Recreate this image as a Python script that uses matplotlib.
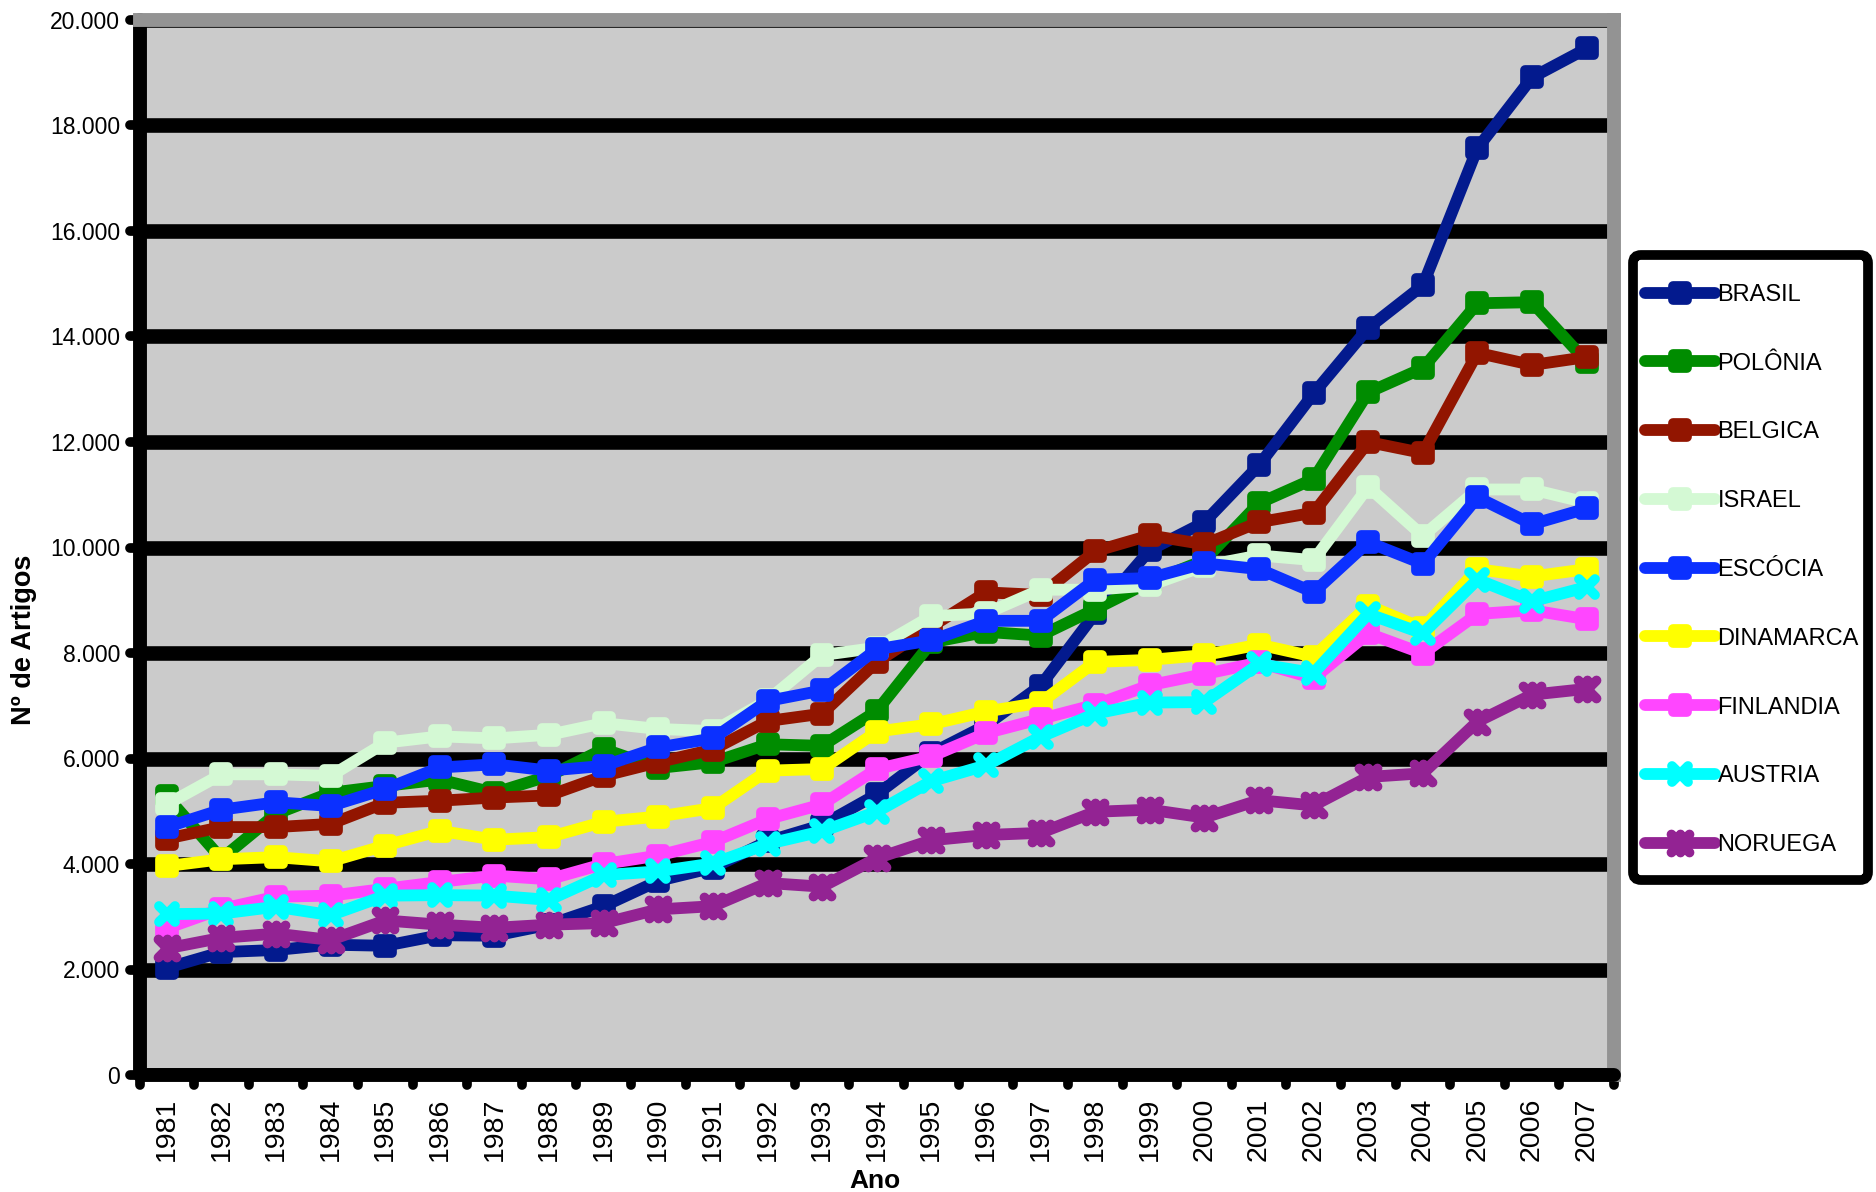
import numpy as np
import matplotlib
matplotlib.use('Agg')
import matplotlib.pyplot as plt
from matplotlib.markers import MarkerStyle, TICKLEFT, TICKDOWN
from matplotlib.path import Path
from matplotlib.patches import FancyBboxPatch
from matplotlib.ticker import FixedLocator, FuncFormatter
from matplotlib.transforms import IdentityTransform

plt.rcParams['font.family'] = ['Liberation Sans', 'DejaVu Sans']

years = list(range(1981, 2008))

brasil = [2030, 2330, 2370, 2470, 2450, 2650, 2640, 2850, 3200, 3680, 3930, 4430, 4740, 5320,
          6100, 6630, 7380, 8750, 9950, 10480, 11560, 12920, 14160, 14970, 17570, 18910, 19460]
polonia = [5280, 4100, 4950, 5350, 5480, 5600, 5350, 5670, 6180, 5820, 5930, 6270, 6240, 6900,
           8200, 8400, 8330, 8830, 9350, 9760, 10840, 11300, 12940, 13400, 14630, 14650, 13520]
belgica = [4480, 4700, 4700, 4760, 5160, 5200, 5260, 5300, 5670, 5930, 6170, 6710, 6850, 7830,
           8500, 9150, 9100, 9930, 10230, 10060, 10480, 10660, 12000, 11790, 13690, 13460, 13610]
israel = [5130, 5700, 5700, 5670, 6300, 6420, 6380, 6450, 6670, 6560, 6520, 7100, 7960, 8100,
          8700, 8750, 9200, 9200, 9280, 9650, 9850, 9760, 11150, 10220, 11100, 11100, 10850]
escocia = [4700, 5030, 5170, 5100, 5420, 5830, 5890, 5770, 5860, 6210, 6380, 7090, 7290, 8070,
           8240, 8610, 8610, 9390, 9420, 9700, 9590, 9150, 10100, 9690, 10950, 10440, 10740]
dinamarca = [3960, 4090, 4130, 4050, 4350, 4630, 4460, 4510, 4800, 4900, 5060, 5770, 5800, 6510,
             6650, 6890, 7060, 7830, 7870, 7960, 8160, 7930, 8900, 8470, 9590, 9450, 9590]
finlandia = [2780, 3150, 3380, 3400, 3530, 3660, 3780, 3710, 4000, 4160, 4420, 4850, 5130, 5800,
             6040, 6480, 6750, 7020, 7390, 7600, 7820, 7520, 8370, 7990, 8740, 8810, 8640]
austria = [3050, 3060, 3190, 3030, 3400, 3410, 3400, 3320, 3790, 3860, 4010, 4380, 4620, 4990,
           5570, 5870, 6410, 6850, 7060, 7070, 7790, 7620, 8740, 8370, 9390, 8980, 9250]
noruega = [2400, 2600, 2680, 2560, 2930, 2850, 2790, 2850, 2880, 3140, 3200, 3640, 3570, 4110,
           4450, 4550, 4590, 4990, 5030, 4880, 5210, 5110, 5650, 5720, 6700, 7210, 7320]

names = ['BRASIL', 'POLÔNIA', 'BELGICA', 'ISRAEL', 'ESCÓCIA', 'DINAMARCA', 'FINLANDIA', 'AUSTRIA', 'NORUEGA']
series = [brasil, polonia, belgica, israel, escocia, dinamarca, finlandia, austria, noruega]
colors = ['#031A8E', '#008C00', '#921500', '#D4F9D4', '#0B30FF', '#FFFF00', '#FF46FF', '#00FFFF', '#932393']

# marker shapes: rounded squares, a fat "x" and an x-with-bar star
square = MarkerStyle('s', joinstyle='round')
cross = MarkerStyle('x', capstyle='round')
star_path = Path([(-1, -1), (1, 1), (-1, 1), (1, -1), (0, -1), (0, 1)],
                 [Path.MOVETO, Path.LINETO, Path.MOVETO, Path.LINETO, Path.MOVETO, Path.LINETO])
star = MarkerStyle(star_path, capstyle='round', joinstyle='round')
markers = [square] * 7 + [cross, star]
msizes = [10] * 7 + [12, 13]

W, H = 1876, 1192
fig = plt.figure(figsize=(W / 100, H / 100), dpi=100)
ax = fig.add_axes([139.5 / W, 1 - 1075 / H, (1614 - 139.5) / W, (1075 - 20) / H])
ax.set_facecolor('#CBCBCB')

x = np.arange(1, len(years) + 1)
handles = []
for vals, name, col, mk, ms in zip(series, names, colors, markers, msizes):
    ln, = ax.plot(x, vals, color=col, lw=8.5, marker=mk, ms=ms, mew=7,
                  mfc=col, mec=col, solid_joinstyle='round', solid_capstyle='round',
                  label=name, zorder=3)
    handles.append(ln)

ax.set_xlim(0.5, len(years) + 0.5)
ax.set_ylim(0, 20000)

# y axis
ax.yaxis.set_major_locator(FixedLocator(np.arange(0, 20001, 2000)))
ax.yaxis.set_major_formatter(FuncFormatter(lambda v, p: f'{v:,.0f}'.replace(',', '.')))
ax.tick_params(axis='y', direction='out', length=7, width=7, pad=7, labelsize=16.5, colors='black')
ax.yaxis.grid(True, color='black', lw=10.5)
ax.set_axisbelow(True)

# x axis: labels at category centres, marks between categories
ax.set_xticks(x)
ax.set_xticklabels([str(y) for y in years], rotation=90,
                   family=['Liberation Sans Narrow', 'Liberation Sans'], fontsize=20.5)
ax.xaxis.set_minor_locator(FixedLocator(np.arange(0.5, len(years) + 1, 1)))
ax.tick_params(axis='x', which='major', length=0, pad=16.5)
ax.tick_params(axis='x', which='minor', direction='out', length=7, width=7, colors='black')

for t in ax.yaxis.get_major_ticks():
    t.tick1line.set_marker(MarkerStyle(TICKLEFT, capstyle='round'))
for t in ax.xaxis.get_minor_ticks():
    t.tick1line.set_marker(MarkerStyle(TICKDOWN, capstyle='round'))

for side in ['left', 'bottom']:
    ax.spines[side].set_color('black')
    ax.spines[side].set_linewidth(10)
    ax.spines[side].set_capstyle('round')
for side in ['top', 'right']:
    ax.spines[side].set_color('#939393')
    ax.spines[side].set_linewidth(10)

fig.text(24 / W, 1 - 640 / H, 'Nº de Artigos', rotation=90, ha='center', va='center',
         fontweight='bold', family=['Liberation Sans Narrow', 'Liberation Sans'], fontsize=19.5)
fig.text(875 / W, 1 - 1181 / H, 'Ano', ha='center', va='center',
         fontweight='bold', family=['Liberation Sans Narrow', 'Liberation Sans'], fontsize=19)

# legend box
frame = FancyBboxPatch((1633, H - 880), 235, 625, boxstyle='round,pad=0,rounding_size=8',
                       transform=IdentityTransform(), facecolor='white', edgecolor='black',
                       linewidth=7, zorder=1)
fig.add_artist(frame)
fig.legend(handles=handles, labels=names, loc='upper left',
           bbox_to_anchor=(1645 / W, 1 - 284 / H), frameon=False, borderpad=0,
           borderaxespad=0, handlelength=2.97, handletextpad=0.1, labelspacing=1.98,
           numpoints=1, prop={'family': 'Liberation Sans', 'size': 17})

fig.savefig('out.png', dpi=100)
